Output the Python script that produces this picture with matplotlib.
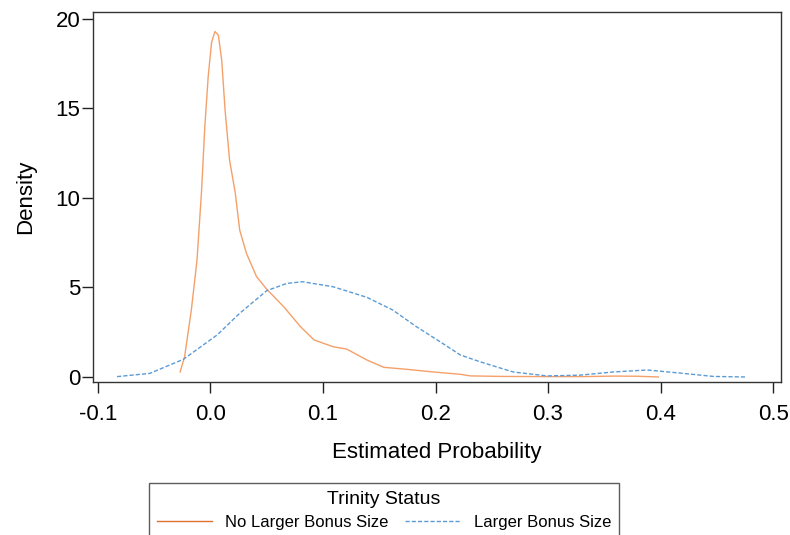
import matplotlib.pyplot as plt

plt.rcParams['font.family'] = ['Liberation Sans', 'DejaVu Sans']

# No Larger Bonus Size (orange, solid)
x_no = [-0.027, -0.023, -0.017, -0.012, -0.008, -0.005, -0.002, 0.001, 0.004, 0.007,
        0.010, 0.013, 0.017, 0.022, 0.026, 0.032, 0.041, 0.050, 0.065, 0.080,
        0.092, 0.109, 0.121, 0.139, 0.154, 0.174, 0.198, 0.222, 0.231, 0.260,
        0.300, 0.330, 0.360, 0.380, 0.398]
y_no = [0.28, 1.12, 3.74, 6.5, 10.3, 14.0, 16.8, 18.7, 19.3, 19.1,
        17.7, 14.9, 12.1, 10.3, 8.2, 6.9, 5.6, 4.9, 3.93, 2.81,
        2.07, 1.69, 1.56, 0.95, 0.54, 0.43, 0.28, 0.15, 0.06, 0.03,
        0.02, 0.02, 0.05, 0.04, 0.0]

# Larger Bonus Size (blue, dashed)
x_yes = [-0.083, -0.054, -0.024, 0.006, 0.026, 0.050, 0.068, 0.082, 0.109, 0.139,
         0.162, 0.183, 0.204, 0.222, 0.240, 0.269, 0.299, 0.328, 0.358, 0.388,
         0.417, 0.447, 0.475]
y_yes = [0.02, 0.2, 0.99, 2.35, 3.56, 4.82, 5.23, 5.32, 5.04, 4.45,
         3.74, 2.81, 1.97, 1.23, 0.84, 0.28, 0.06, 0.1, 0.28, 0.39,
         0.22, 0.03, 0.0]

fig = plt.figure(figsize=(7.9, 5.35), dpi=100)
ax = fig.add_axes([0.1177, 0.286, 0.8709, 0.6916])

ax.plot(x_no, y_no, color='#F4A06A', lw=1.0, label='No Larger Bonus Size')
ax.plot(x_yes, y_yes, color='#5B9BD5', lw=1.0, ls=(0, (3, 1.5)), label='Larger Bonus Size')

ax.set_xlim(-0.1044, 0.507)
ax.set_ylim(-0.28, 20.39)
ax.set_xticks([-0.1, 0.0, 0.1, 0.2, 0.3, 0.4, 0.5])
ax.set_xticklabels(['-0.1', '0.0', '0.1', '0.2', '0.3', '0.4', '0.5'])
ax.set_yticks([0, 5, 10, 15, 20])
ax.tick_params(direction='out', length=8, width=1, labelsize=16, colors='#222222', labelcolor='black')
ax.tick_params(axis='x', pad=8)
ax.tick_params(axis='y', pad=1)
for s in ax.spines.values():
    s.set_color('#333333')
    s.set_linewidth(1)

ax.set_xlabel('Estimated Probability', fontsize=16, labelpad=12)
ax.set_ylabel('Density', fontsize=16, labelpad=14)

leg = fig.legend(loc='upper center', bbox_to_anchor=(0.486, 0.097), ncol=2,
                 title='Trinity Status', fontsize=12, title_fontsize=14,
                 frameon=True, fancybox=False, edgecolor='#333333',
                 handlelength=3.3, handletextpad=0.8, columnspacing=1.0,
                 borderpad=0.5, labelspacing=0.4, borderaxespad=0)
leg.get_frame().set_linewidth(1)
leg.get_lines()[0].set_color('#E07030')

fig.savefig('out.png', dpi=100)
